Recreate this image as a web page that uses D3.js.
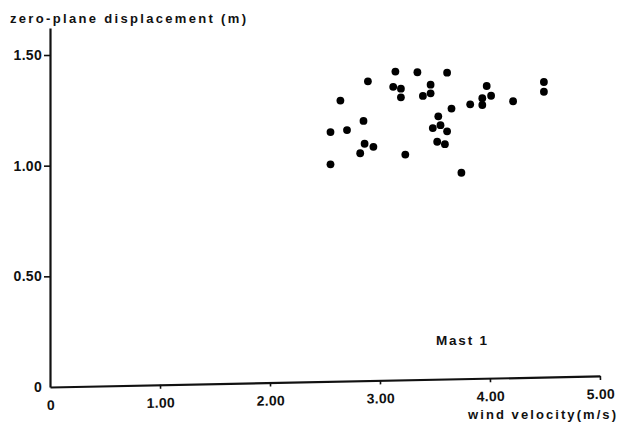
<!DOCTYPE html>
<html>
<head>
<meta charset="utf-8">
<script src="https://cdn.jsdelivr.net/npm/d3@7"></script>
<style>
  html, body { margin: 0; padding: 0; background: #fff; }
  svg { display: block; }
  text { font-family: "Liberation Sans", Arial, sans-serif; fill: #111; }
</style>
</head>
<body>
<script>
// wind velocity (m/s)
const windVelocity = [
  3.14, 3.34, 3.61, 2.89, 3.12, 3.19, 3.46, 3.19, 3.39, 3.46,
  2.64, 3.65, 2.85, 3.53, 2.55, 2.70, 3.48, 3.55, 3.61, 2.86,
  2.94, 2.82, 3.52, 3.59, 3.23, 2.55, 3.74, 4.49, 3.97, 4.49,
  3.93, 4.01, 4.21, 3.82, 3.93
];
// zero-plane displacement (m)
const displacement = [
  1.425, 1.422, 1.420, 1.381, 1.356, 1.348, 1.366, 1.309, 1.315, 1.327,
  1.294, 1.258, 1.202, 1.223, 1.152, 1.161, 1.170, 1.183, 1.155, 1.099,
  1.085, 1.056, 1.108, 1.097, 1.050, 1.006, 0.968, 1.378, 1.360, 1.334,
  1.305, 1.316, 1.291, 1.277, 1.274
];
const xTickValues = [0, 1, 2, 3, 4, 5];
const xTickLabels = ["0", "1.00", "2.00", "3.00", "4.00", "5.00"];
const yTickValues = [0, 0.5, 1.0, 1.5];
const yTickLabels = ["0", "0.50", "1.00", "1.50"];
const yAxisTitle = "zero-plane displacement (m)";
const xAxisTitle = "wind velocity(m/s)";
const annotation = "Mast 1";

const W = 622, H = 423;
const svg = d3.select("body").append("svg").attr("width", W).attr("height", H);

const x = d3.scaleLinear().domain([0, 5]).range([50, 600]);
const y = d3.scaleLinear().domain([0, 1.622]).range([387, 28]);

// y axis
const yAxis = svg.append("g")
  .attr("transform", `translate(${x(0)},0)`)
  .call(d3.axisLeft(y)
    .tickValues(yTickValues)
    .tickFormat((d, i) => yTickLabels[i])
    .tickSize(6).tickSizeOuter(0).tickPadding(2));
yAxis.select(".domain").attr("stroke", "#111").attr("stroke-width", 2.2);
yAxis.selectAll(".tick line").attr("stroke", "#111").attr("stroke-width", 1.6);
yAxis.selectAll(".tick text")
  .attr("font-size", 14).attr("font-weight", "bold").attr("letter-spacing", 0.3)
  .attr("font-family", "Liberation Sans, Arial, sans-serif").attr("fill", "#111");
yAxis.selectAll(".tick").filter(d => d === 0).select("line").remove();

// x axis (slightly skewed as in the scanned figure)
const xAxis = svg.append("g")
  .attr("transform", `rotate(-1.15, ${x(0)}, ${y(0)}) translate(0,${y(0)})`)
  .call(d3.axisBottom(x)
    .tickValues(xTickValues)
    .tickFormat((d, i) => xTickLabels[i])
    .tickSize(4).tickSizeOuter(0).tickPadding(9));
xAxis.select(".domain").attr("stroke", "#111").attr("stroke-width", 2.2);
xAxis.selectAll(".tick line").attr("stroke", "#111").attr("stroke-width", 1.6);
xAxis.selectAll(".tick").filter(d => d === 0).select("line").remove();
xAxis.selectAll(".tick text")
  .attr("font-size", 14).attr("font-weight", "bold").attr("letter-spacing", 0.3)
  .attr("font-family", "Liberation Sans, Arial, sans-serif").attr("fill", "#111");

// y axis title
svg.append("text")
  .attr("x", 10).attr("y", 23)
  .attr("font-size", 13).attr("font-weight", "bold")
  .attr("textLength", 236).attr("lengthAdjust", "spacing")
  .text(yAxisTitle);

// x axis title
svg.append("text")
  .attr("x", 468).attr("y", 419)
  .attr("font-size", 13).attr("font-weight", "bold")
  .attr("textLength", 148).attr("lengthAdjust", "spacing")
  .text(xAxisTitle);

// annotation
svg.append("text")
  .attr("x", 436).attr("y", 345)
  .attr("font-size", 13.5).attr("font-weight", "bold")
  .attr("textLength", 51).attr("lengthAdjust", "spacing")
  .text(annotation);

// points
svg.append("g").selectAll("circle")
  .data(windVelocity.map((v, i) => [v, displacement[i]]))
  .join("circle")
  .attr("cx", d => x(d[0]))
  .attr("cy", d => y(d[1]))
  .attr("r", 3.9)
  .attr("fill", "#000");
</script>
</body>
</html>
